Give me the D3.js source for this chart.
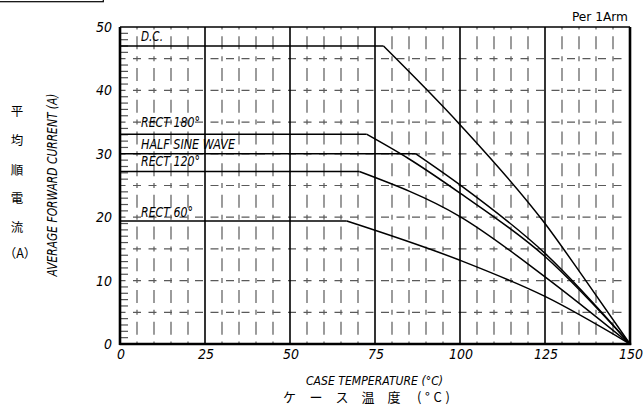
<!DOCTYPE html>
<html><head><meta charset="utf-8">
<script src="https://cdn.jsdelivr.net/npm/d3@7"></script>
<style>
html,body{margin:0;padding:0;background:#fff;}
svg{display:block;}
</style></head>
<body>
<svg id="c" width="643" height="405"></svg>
<script>
// ---- data ----
const xTicks = [0, 25, 50, 75, 100, 125, 150];
const yTicks = [0, 10, 20, 30, 40, 50];
const seriesNames = ["D.C.", "RECT 180°", "HALF SINE WAVE", "RECT 120°", "RECT 60°"];
const dcT    = [0, 77.5, 100, 125, 137, 150];
const dcI    = [47, 47, 34.6, 19, 10, 0];
const r180T  = [0, 72.5, 84.7, 100, 125, 150];
const r180I  = [33.1, 33.1, 29.3, 23.8, 13.8, 0];
const hsT    = [0, 87, 100, 125, 150];
const hsI    = [30, 30, 25.1, 14.3, 0];
const r120T  = [0, 70.4, 100, 125, 150];
const r120I  = [27.2, 27.2, 20.1, 10.6, 0];
const r60T   = [0, 66.7, 100, 125, 150];
const r60I   = [19.4, 19.4, 13.2, 7.5, 0];

const svg = d3.select("#c");
const x = d3.scaleLinear().domain([0,150]).range([120,630]);
const y = d3.scaleLinear().domain([0,50]).range([344,27]);
const narrow = "'Liberation Sans Narrow','DejaVu Sans Condensed',sans-serif";
const cjk = "'Noto Sans CJK JP','Noto Sans CJK SC',sans-serif";

// top-left box fragment
svg.append("rect").attr("x",-5).attr("y",-10).attr("width",108.3).attr("height",11.7)
  .attr("fill","none").attr("stroke","#000").attr("stroke-width",1.2);

const g = svg.append("g");
const dashColor = "#5a5a5a";

// horizontal dashed grid every 5A
const hGrid = d3.range(5,50,5);
g.selectAll(".hg").data(hGrid).join("line")
  .attr("x1",x(0)).attr("x2",x(150)).attr("y1",d=>y(d)).attr("y2",d=>y(d))
  .attr("stroke",dashColor).attr("stroke-width",1.2)
  .attr("stroke-dasharray","8,7.5").attr("stroke-dashoffset",2.5);

// vertical dashed grid every 5C
const cell = y(0)-y(5);
const gap = (cell-5-13)/2;
const vGrid = d3.range(5,150,5).filter(d=>d%25!==0);
g.selectAll(".vg").data(vGrid).join("line")
  .attr("x1",d=>x(d)).attr("x2",d=>x(d)).attr("y1",y(0)).attr("y2",y(50))
  .attr("stroke",dashColor).attr("stroke-width",1.2)
  .attr("stroke-dasharray",`13,${gap},5,${gap}`)
  .attr("stroke-dashoffset",13+gap+2.5);

// minor ticks on left axis every 1A
const minor = d3.range(1,50).filter(d=>d%5!==0);
g.selectAll(".mt").data(minor).join("line")
  .attr("x1",x(0)).attr("x2",x(0)+8).attr("y1",d=>y(d)).attr("y2",d=>y(d))
  .attr("stroke","#555").attr("stroke-width",1.2);

// vertical solid lines
g.selectAll(".vs").data(xTicks.filter(d=>d>0&&d<150)).join("line")
  .attr("x1",d=>x(d)).attr("x2",d=>x(d)).attr("y1",y(0)).attr("y2",y(50))
  .attr("stroke","#000").attr("stroke-width",1.6);

// borders
g.append("line").attr("x1",x(0)).attr("x2",x(150)).attr("y1",y(50)).attr("y2",y(50)).attr("stroke","#000").attr("stroke-width",1.7);
g.append("line").attr("x1",x(0)-0.5).attr("x2",x(150)+1.2).attr("y1",y(0)).attr("y2",y(0)).attr("stroke","#000").attr("stroke-width",2.6);
g.append("line").attr("x1",x(0)).attr("x2",x(0)).attr("y1",y(50)).attr("y2",y(0)+1).attr("stroke","#000").attr("stroke-width",2.6);
g.append("line").attr("x1",x(150)).attr("x2",x(150)).attr("y1",y(50)).attr("y2",y(0)+1).attr("stroke","#000").attr("stroke-width",2.6);

// curves: flat part straight, derating part smooth
const lineLin = d3.line().x(d=>x(d[0])).y(d=>y(d[1]));
const lineSmooth = d3.line().x(d=>x(d[0])).y(d=>y(d[1])).curve(d3.curveMonotoneX);
const curves = [[dcT,dcI],[r180T,r180I],[hsT,hsI],[r120T,r120I],[r60T,r60I]];
curves.forEach(([T,I])=>{
  const pts = T.map((t,i)=>[t,I[i]]);
  g.append("path").datum(pts.slice(0,2)).attr("d",lineLin)
   .attr("fill","none").attr("stroke","#000").attr("stroke-width",1.5);
  g.append("path").datum(pts.slice(1)).attr("d",lineSmooth)
   .attr("fill","none").attr("stroke","#000").attr("stroke-width",1.5);
});

// curve labels
const labelPos = [[141,40.7,22],[141,127.3,59],[141,149.3,94],[141,166,59],[141,216.7,52]];
seriesNames.forEach((n,i)=>{
  g.append("text").text(n).attr("x",labelPos[i][0]).attr("y",labelPos[i][1])
   .attr("font-family",narrow).attr("font-style","italic").attr("font-size",13.5)
   .attr("textLength",labelPos[i][2]).attr("lengthAdjust","spacingAndGlyphs");
});

// y tick labels
svg.selectAll(".yl").data(yTicks).join("text")
  .attr("x",112).attr("y",d=>y(d)).attr("dy","0.35em").attr("text-anchor","end")
  .attr("font-family",narrow).attr("font-style","italic").attr("font-size",14)
  .text(d=>d);
// x tick labels
svg.selectAll(".xl").data(xTicks).join("text")
  .attr("x",d=>x(d)+1).attr("y",359).attr("text-anchor","middle")
  .attr("font-family",narrow).attr("font-style","italic").attr("font-size",14)
  .text(d=>d);

// Per 1Arm
svg.append("text").text("Per 1Arm").attr("x",628).attr("y",21).attr("text-anchor","end")
  .attr("font-family",narrow).attr("font-size",13).attr("textLength",56).attr("lengthAdjust","spacingAndGlyphs");

// x titles
svg.append("text").text("CASE TEMPERATURE (°C)").attr("x",306).attr("y",385)
  .attr("font-family",narrow).attr("font-style","italic").attr("font-size",13)
  .attr("textLength",137).attr("lengthAdjust","spacingAndGlyphs");
const kata = ["ケ","ー","ス","温","度"];
const kataX = [289.6,316,342,368,394];
kata.forEach((k,i)=>svg.append("text").text(k).attr("x",kataX[i]).attr("y",402)
  .attr("text-anchor","middle").attr("font-family",cjk).attr("font-size",13));
svg.append("text").text("(°C)").attr("x",417).attr("y",402)
  .attr("font-family",cjk).attr("font-size",13).attr("textLength",33).attr("lengthAdjust","spacing");

// y titles
svg.append("text").text("AVERAGE FORWARD CURRENT (A)")
  .attr("transform","translate(57,185) rotate(-90)").attr("text-anchor","middle")
  .attr("font-family",narrow).attr("font-style","italic").attr("font-size",13.5)
  .attr("textLength",183).attr("lengthAdjust","spacingAndGlyphs");
const jy = ["平","均","順","電","流"];
const jyY = [111,140,170,198,227];
jy.forEach((k,i)=>svg.append("text").text(k).attr("x",17).attr("y",jyY[i]).attr("dy","0.36em")
  .attr("text-anchor","middle").attr("font-family",cjk).attr("font-size",12.5));
svg.append("text").text("（A）").attr("x",20).attr("y",253).attr("dy","0.36em")
  .attr("text-anchor","middle").attr("font-family",cjk).attr("font-size",12.5);
</script>
</body></html>
